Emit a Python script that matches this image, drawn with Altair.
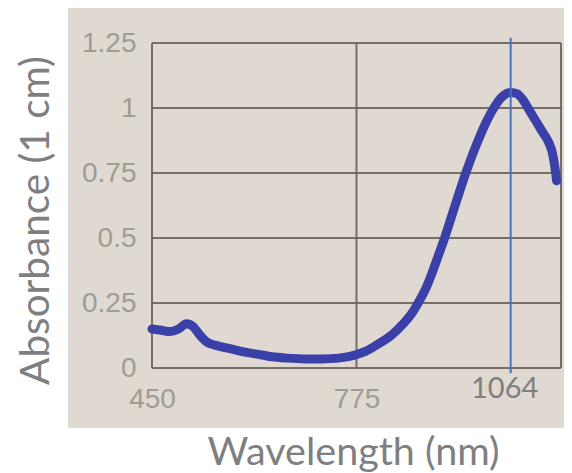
import altair as alt
import pandas as pd

# ---- data ----
wavelength_nm = [450, 465, 478, 492, 505, 515, 525, 537, 550, 568, 585, 605, 625, 641,
                 665, 694, 720, 747, 773, 790, 810, 830, 850, 862, 873, 885, 895, 905,
                 915, 925, 937, 948, 960, 970, 981, 992, 1005, 1020, 1030, 1040, 1050,
                 1060, 1070, 1080, 1087, 1091, 1093]
absorbance = [0.15, 0.145, 0.14, 0.15, 0.17, 0.16, 0.13, 0.10, 0.088, 0.077, 0.068, 0.058,
              0.05, 0.043, 0.038, 0.035, 0.035, 0.038, 0.05, 0.065, 0.093, 0.125, 0.172,
              0.207, 0.25, 0.305, 0.365, 0.432, 0.50, 0.575, 0.665, 0.745, 0.825, 0.885,
              0.945, 0.995, 1.04, 1.06, 1.055, 1.03, 0.99, 0.95, 0.91, 0.87, 0.82, 0.76, 0.72]

x_domain = [450, 1100]
y_domain = [0, 1.25]
x_tick_values = [450, 775]
x_grid_values = [450, 775, 1100]
y_tick_values = [0, 0.25, 0.5, 0.75, 1, 1.25]

marker_nm = [1020]          # where the blue marker line is drawn
marker_label = ["1064"]
marker_top = [1.27]
marker_bottom = [-0.02]

W, H = 409, 325
GRID = "#6a625b"
BG = "#dfd9d2"

curve = pd.DataFrame({"nm": wavelength_nm, "abs": absorbance})
xs = alt.Scale(domain=x_domain, nice=False, zero=False)
ys = alt.Scale(domain=y_domain, nice=False)

photo = alt.Chart(pd.DataFrame({"k": [0]})).mark_rect(color=BG).encode(
    x=alt.value(-84), x2=alt.value(W + 30), y=alt.value(-35), y2=alt.value(385)
)

hgrid = alt.Chart(pd.DataFrame({"v": y_tick_values})).mark_rule(
    color=GRID, strokeWidth=2, opacity=0.9
).encode(y=alt.Y("v:Q", scale=ys))

vgrid = alt.Chart(pd.DataFrame({"v": x_grid_values})).mark_rule(
    color=GRID, strokeWidth=2, opacity=0.9
).encode(x=alt.X("v:Q", scale=xs))

line = alt.Chart(curve).mark_line(
    color="#3b3fa8", strokeWidth=9, strokeCap="round", strokeJoin="round",
    interpolate="monotone"
).encode(
    x=alt.X("nm:Q", scale=xs,
            axis=alt.Axis(values=x_tick_values, title="Wavelength (nm)",
                          grid=False, ticks=False, domain=False, labelFlush=False,
                          labelFont="Liberation Sans", labelFontSize=28,
                          labelColor="#a09b95", labelPadding=17,
                          titleFont="Lato", titleFontSize=39.5, titleColor="#7f7f7f",
                          titleFontWeight="normal", titleX=201, titleY=96,
                          titleAlign="center", titleBaseline="alphabetic", zindex=1)),
    y=alt.Y("abs:Q", scale=ys,
            axis=alt.Axis(values=y_tick_values, title="Absorbance (1 cm)",
                          labelExpr="'' + datum.value",
                          grid=False, ticks=False, domain=False, labelFlush=False,
                          labelOverlap=False,
                          labelFont="Liberation Sans", labelFontSize=28,
                          labelColor="#a09b95", labelPadding=16,
                          titleFont="Lato", titleFontSize=40.5, titleColor="#7f7f7f",
                          titleFontWeight="normal", titleX=-116, titleY=177,
                          titleAlign="center", titleBaseline="middle", zindex=1)),
)

marker_df = pd.DataFrame({"nm": marker_nm, "label": marker_label,
                          "top": marker_top, "bottom": marker_bottom})
marker = alt.Chart(marker_df).mark_rule(color="#4472c4", strokeWidth=2).encode(
    x=alt.X("nm:Q", scale=xs), y=alt.Y("bottom:Q", scale=ys), y2="top:Q"
)
marker_text = alt.Chart(marker_df).mark_text(
    font="Lato", fontSize=29, color="#7f7f7f", baseline="middle", align="center",
    dx=-6, dy=21
).encode(x=alt.X("nm:Q", scale=xs), y=alt.datum(0), text="label:N")

chart = alt.layer(photo, hgrid, vgrid, line, marker, marker_text).properties(
    width=W, height=H,
    autosize=alt.AutoSizeParams(type="none"),
    padding={"left": 144, "top": 35, "right": 3, "bottom": 105},
).configure_view(stroke=None).configure(background="white")

chart.save("out.html", embed_options={"renderer": "svg", "actions": False})
